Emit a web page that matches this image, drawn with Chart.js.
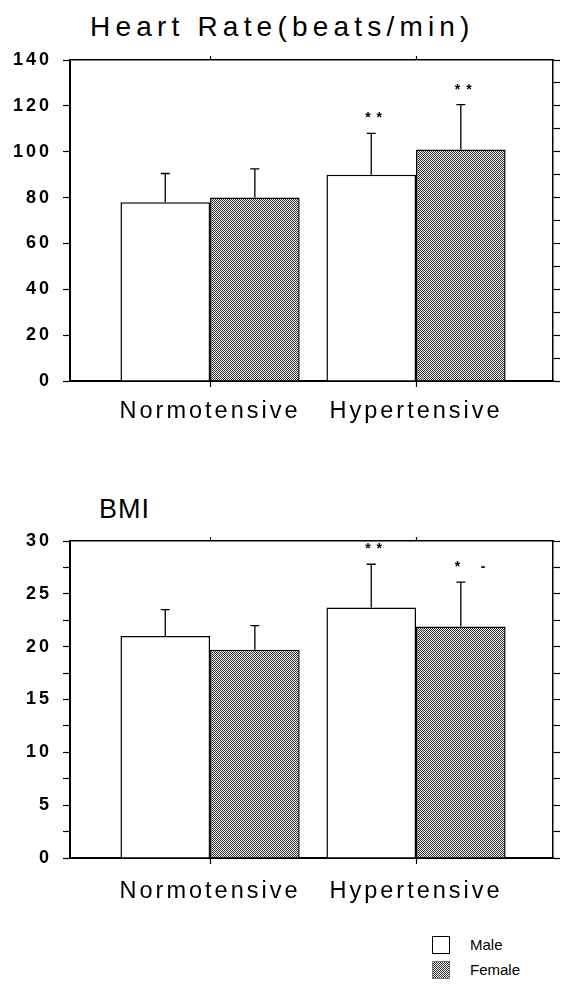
<!DOCTYPE html>
<html>
<head>
<meta charset="utf-8">
<script src="https://cdn.jsdelivr.net/npm/chart.js@4.4.1/dist/chart.umd.min.js"></script>
<style>
  body { margin: 0; background: #fff; width: 563px; height: 994px; position: relative; overflow: hidden;
         font-family: "Liberation Sans", Arial, sans-serif; color: #000; }
  canvas { position: absolute; left: 0; }
  .title { position: absolute; font-size: 28px; letter-spacing: 5.2px; white-space: nowrap; }
  #legend { position: absolute; left: 432px; top: 932px; font-size: 15px; }
  .item { height: 25px; display: flex; align-items: center; }
  .box { width: 18px; height: 18px; box-sizing: border-box; border: 1px solid #000; margin-right: 20px; }
  .male { background: #fff; }
  .female { border-color: #777; background: repeating-conic-gradient(#333 0% 25%, #f0f0f0 0% 50%) 0 0 / 2px 2px; }
</style>
</head>
<body>
<div class="title" style="left:90px; top:11px;">Heart Rate(beats/min)</div>
<canvas id="hrChart" width="563" height="440" style="top:0px;"></canvas>
<div class="title" style="left:99px; top:494px; font-size:27px; letter-spacing:1px;">BMI</div>
<canvas id="bmiChart" width="563" height="440" style="top:480px;"></canvas>
<div id="legend">
  <div class="item"><span class="box male"></span>Male</div>
  <div class="item"><span class="box female"></span>Female</div>
</div>
<script>
// data
const categories = ['Normotensive', 'Hypertensive'];

const hrMale = [78, 90];
const hrMaleSD = [12.5, 18];
const hrFemale = [80, 101];
const hrFemaleSD = [12.5, 19.5];
const hrMaleStars = ['', '* *'];
const hrFemaleStars = ['', '* *'];

const bmiMale = [21.0, 23.7];
const bmiMaleSD = [2.5, 4.1];
const bmiFemale = [19.7, 21.9];
const bmiFemaleSD = [2.3, 4.2];
const bmiMaleStars = ['', '* *'];
const bmiFemaleStars = ['', '*    -'];

Chart.defaults.font.family = '"Liberation Sans", Arial, sans-serif';
Chart.defaults.color = '#000';

// dotted grey fill used for the female bars
function makePattern() {
    let c = document.createElement('canvas');
    c.width = 2; c.height = 2;
    let p = c.getContext('2d');
    p.fillStyle = '#f0f0f0';
    p.fillRect(0, 0, 2, 2);
    p.fillStyle = '#333';
    p.fillRect(0, 0, 1, 1);
    p.fillRect(1, 1, 1, 1);
    return p.createPattern(c, 'repeat');
}

const spacing = {
    id: 'spacing',
    beforeDraw(chart) { chart.ctx.letterSpacing = '3px'; }
};

// SD whiskers (upward only) and significance stars
const errorBars = {
    id: 'errorBars',
    afterDatasetsDraw(chart) {
        let ctx = chart.ctx;
        let y = chart.scales.y;
        chart.data.datasets.forEach((ds, di) => {
            let meta = chart.getDatasetMeta(di);
            meta.data.forEach((bar, i) => {
                let top = y.getPixelForValue(ds.data[i].y + ds.sd[i]);
                ctx.save();
                ctx.strokeStyle = '#000';
                ctx.lineWidth = 1.3;
                ctx.beginPath();
                ctx.moveTo(bar.x, bar.y);
                ctx.lineTo(bar.x, top);
                ctx.moveTo(bar.x - 4.5, top);
                ctx.lineTo(bar.x + 4.5, top);
                ctx.stroke();
                if (ds.stars[i]) {
                    ctx.letterSpacing = '1px';
                    ctx.fillStyle = '#000';
                    ctx.font = 'bold 14px "Liberation Sans", Arial, sans-serif';
                    ctx.textAlign = 'left';
                    ctx.textBaseline = 'middle';
                    ctx.fillText(ds.stars[i], bar.x - 6, top - 15);
                }
                ctx.restore();
            });
        });
    }
};

function catTicks(scale) {
    scale.ticks = categories.map((c, i) => ({ value: i }));
}

function makeChart(id, male, maleSD, maleStars, female, femaleSD, femaleStars, yMax, step, labelStep, topH, bottomH, labelPad) {
    let pattern = makePattern();
    new Chart(document.getElementById(id), {
        type: 'bar',
        data: {
            datasets: [{
                label: 'Male',
                data: categories.map((c, i) => ({ x: i, y: male[i] })),
                sd: maleSD,
                stars: maleStars,
                backgroundColor: '#fff',
                borderColor: '#000',
                borderWidth: 1.5,
                xAxisID: 'x',
                yAxisID: 'y'
            }, {
                label: 'Female',
                data: categories.map((c, i) => ({ x: i, y: female[i] })),
                sd: femaleSD,
                stars: femaleStars,
                backgroundColor: pattern,
                borderColor: '#000',
                borderWidth: 1.5,
                xAxisID: 'x',
                yAxisID: 'y'
            }]
        },
        options: {
            responsive: false,
            devicePixelRatio: 1,
            animation: false,
            layout: { padding: 0 },
            categoryPercentage: 0.87,
            barPercentage: 1.0,
            plugins: { legend: { display: false }, tooltip: { enabled: false } },
            scales: {
                x: {
                    type: 'linear', position: 'bottom', min: -0.68, max: 1.665,
                    offset: false, bounds: 'data',
                    afterBuildTicks: catTicks,
                    afterFit: s => { s.height = bottomH; },
                    ticks: { callback: v => categories[v], font: { size: 23.5 }, padding: labelPad,
                             maxRotation: 0, autoSkip: false },
                    grid: { offset: false, drawOnChartArea: false, tickLength: 6, color: '#000', tickWidth: 1.2 },
                    border: { color: '#000', width: 2 }
                },
                xTop: {
                    type: 'linear', position: 'top', min: -0.68, max: 1.665,
                    offset: false, bounds: 'data',
                    afterBuildTicks: catTicks,
                    afterFit: s => { s.height = topH; },
                    ticks: { display: false },
                    grid: { offset: false, drawOnChartArea: false, tickLength: 4, color: '#000', tickWidth: 1.2 },
                    border: { color: '#000', width: 1.5 }
                },
                y: {
                    position: 'left', min: 0, max: yMax,
                    afterFit: s => { s.width = 70; },
                    ticks: { stepSize: step, padding: 11, font: { size: 18, weight: 'bold' },
                             callback: v => (v % labelStep === 0 ? v : '') },
                    grid: { drawOnChartArea: false, tickLength: 7, color: '#000', tickWidth: 1.2 },
                    border: { color: '#000', width: 2 }
                },
                yRight: {
                    position: 'right', min: 0, max: yMax,
                    afterFit: s => { s.width = 10; },
                    ticks: { stepSize: step, display: false },
                    grid: { drawOnChartArea: false, tickLength: 7, color: '#000', tickWidth: 1.2 },
                    border: { color: '#000', width: 1.5 }
                }
            }
        },
        plugins: [spacing, errorBars]
    });
}

makeChart('hrChart', hrMale, hrMaleSD, hrMaleStars, hrFemale, hrFemaleSD, hrFemaleStars,
          140, 10, 20, 60, 59, 10);
makeChart('bmiChart', bmiMale, bmiMaleSD, bmiMaleStars, bmiFemale, bmiFemaleSD, bmiFemaleStars,
          30, 2.5, 5, 61, 62, 13);
</script>
</body>
</html>
